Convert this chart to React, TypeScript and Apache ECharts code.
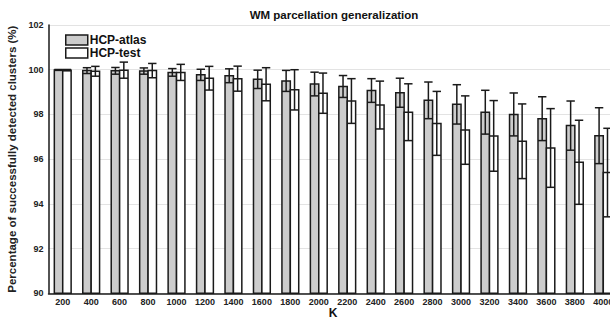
import React, { useEffect, useRef } from "react";
import * as echarts from "echarts";

const K_LABELS = ["200", "400", "600", "800", "1000", "1200", "1400", "1600", "1800", "2000", "2200", "2400", "2600", "2800", "3000", "3200", "3400", "3600", "3800", "4000"];
const ATLAS_MEAN = [99.99, 99.96, 99.95, 99.94, 99.88, 99.77, 99.73, 99.57, 99.5, 99.36, 99.25, 99.07, 98.97, 98.63, 98.45, 98.1, 98.0, 97.81, 97.5, 97.05];
const ATLAS_SD = [0.02, 0.13, 0.15, 0.14, 0.17, 0.25, 0.31, 0.41, 0.47, 0.53, 0.49, 0.53, 0.65, 0.82, 0.88, 0.98, 0.96, 0.98, 1.1, 1.25];
const TEST_MEAN = [99.98, 99.93, 99.98, 99.96, 99.88, 99.62, 99.6, 99.35, 99.1, 98.95, 98.6, 98.42, 98.1, 97.6, 97.3, 97.04, 96.8, 96.5, 95.86, 95.4];
const TEST_SD = [0.03, 0.22, 0.36, 0.32, 0.36, 0.53, 0.56, 0.74, 0.9, 0.9, 1.0, 1.07, 1.27, 1.43, 1.53, 1.58, 1.67, 1.76, 1.88, 1.98];
const Y_MIN = 90;
const Y_MAX = 102;
// x axis runs in category-index units; the plot is cut off at the right edge
const X_MIN = -0.5;
const X_MAX = 19.236;

const FONT = "'Liberation Sans', Arial, Helvetica, sans-serif";
const BAR_W = 8.4;
const STROKE = "#1a1a1a";

function makeRender(side: number, fill: string) {
  return (params: any, api: any) => {
    const idx = api.value(0);
    const mean = api.value(1);
    const sd = api.value(2);
    const top = api.coord([idx, mean]);
    const base = api.coord([idx, Y_MIN]);
    const bx = top[0] + side * (BAR_W / 2);
    const up = api.coord([idx, mean + sd])[1];
    const lo = api.coord([idx, mean - sd])[1];
    const cap = BAR_W;
    const ls = { stroke: STROKE, lineWidth: 1.5 };
    return {
      type: "group",
      children: [
        {
          type: "rect",
          shape: { x: bx - BAR_W / 2, y: top[1], width: BAR_W, height: base[1] - top[1] },
          style: { fill, stroke: STROKE, lineWidth: 1.5 },
        },
        { type: "line", shape: { x1: bx, y1: up, x2: bx, y2: lo }, style: ls },
        { type: "line", shape: { x1: bx - cap / 2, y1: up, x2: bx + cap / 2, y2: up }, style: ls },
        { type: "line", shape: { x1: bx - cap / 2, y1: lo, x2: bx + cap / 2, y2: lo }, style: ls },
      ],
    };
  };
}

export default function App() {
  const ref = useRef<HTMLDivElement>(null);
  useEffect(() => {
    if (!ref.current) return;
    const chart = echarts.init(ref.current, null, { renderer: "svg" });
    chart.setOption({
      animation: false,
      textStyle: { fontFamily: FONT },
      grid: { left: 48.5, top: 25, right: 0, height: 268.3, containLabel: false, outerBoundsMode: "none" },
      graphic: [
        {
          type: "text",
          x: 334,
          y: 15,
          style: {
            text: "WM parcellation generalization",
            fontFamily: FONT,
            fontWeight: "bold",
            fontSize: 11.5,
            fill: "#111",
            textAlign: "center",
            textVerticalAlign: "middle",
          },
        },
        {
          type: "text",
          x: 333,
          y: 313,
          style: {
            text: "K",
            fontFamily: FONT,
            fontWeight: "bold",
            fontSize: 12,
            fill: "#111",
            textAlign: "center",
            textVerticalAlign: "middle",
          },
        },
      ],
      legend: {
        orient: "vertical",
        left: 65,
        top: 34,
        padding: 0,
        itemWidth: 22,
        itemHeight: 10,
        itemGap: 1,
        selectedMode: false,
        textStyle: { fontFamily: FONT, fontWeight: "bold", fontSize: 12, color: "#111", padding: [0, 0, 0, -3] },
        data: [
          { name: "HCP-atlas", icon: "rect", itemStyle: { color: "#cccccc", borderColor: STROKE, borderWidth: 1.5 } },
          { name: "HCP-test", icon: "rect", itemStyle: { color: "#ffffff", borderColor: STROKE, borderWidth: 1.5 } },
        ],
      },
      xAxis: {
        type: "value",
        min: X_MIN,
        max: X_MAX,
        axisLine: { show: true, onZero: false, lineStyle: { color: STROKE, width: 1.5 } },
        axisTick: { show: false },
        axisLabel: {
          fontFamily: FONT,
          fontWeight: "bold",
          fontSize: 9,
          color: "#222",
          margin: 4,
          hideOverlap: false,
          customValues: K_LABELS.map((_, i) => i),
          formatter: (v: number) => K_LABELS[Math.round(v)] ?? "",
        },
        splitLine: { show: false },
      },
      yAxis: {
        type: "value",
        min: Y_MIN,
        max: Y_MAX,
        interval: 2,
        name: "Percentage of successfully detected clusters (%)",
        nameLocation: "middle",
        nameGap: 23,
        nameTextStyle: { fontFamily: FONT, fontWeight: "bold", fontSize: 11.5, color: "#222" },
        axisLine: { show: true, onZero: false, lineStyle: { color: STROKE, width: 1.5 } },
        axisTick: { show: false },
        axisLabel: { fontFamily: FONT, fontWeight: "bold", fontSize: 9, color: "#222", margin: 5 },
        splitLine: { show: true, lineStyle: { color: "#e3e3e3", width: 1 } },
      },
      series: [
        {
          name: "HCP-atlas",
          type: "custom",
          renderItem: makeRender(-1, "#cccccc"),
          encode: { x: 0, y: 1 },
          data: ATLAS_MEAN.map((m, i) => [i, m, ATLAS_SD[i]]),
          z: 3,
        },
        {
          name: "HCP-test",
          type: "custom",
          renderItem: makeRender(1, "#ffffff"),
          encode: { x: 0, y: 1 },
          data: TEST_MEAN.map((m, i) => [i, m, TEST_SD[i]]),
          z: 3,
        },
      ],
    });
    return () => chart.dispose();
  }, []);
  return <div ref={ref} style={{ position: "absolute", left: 0, top: 0, width: 610, height: 322 }} />;
}
